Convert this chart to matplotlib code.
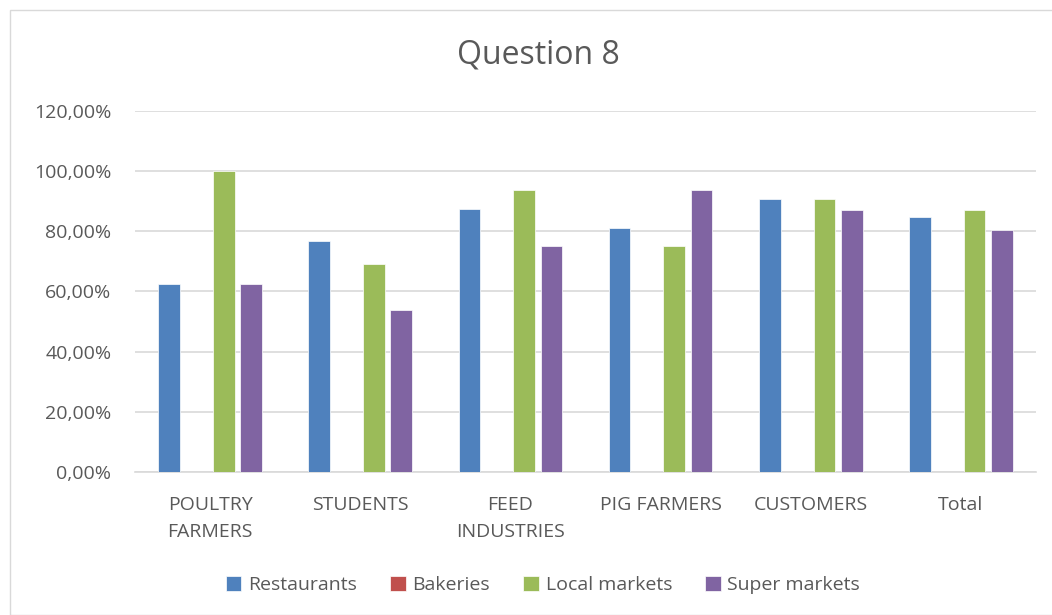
import matplotlib
matplotlib.use("Agg")
import matplotlib.pyplot as plt
from matplotlib.patches import Rectangle
from matplotlib.ticker import FuncFormatter
import numpy as np

categories = ["POULTRY\nFARMERS", "STUDENTS", "FEED\nINDUSTRIES", "PIG FARMERS", "CUSTOMERS", "Total"]
series_names = ["Restaurants", "Bakeries", "Local markets", "Super markets"]
restaurants = [62.5, 76.92, 87.5, 81.25, 90.91, 84.9]
bakeries = [0, 0, 0, 0, 0, 0]
local_markets = [100.0, 69.23, 93.75, 75.0, 90.91, 87.0]
super_markets = [62.5, 53.85, 75.0, 93.75, 87.0, 80.3]
colors = ["#4F81BD", "#C0504D", "#9BBB59", "#8064A2"]

plt.rcParams['font.family'] = ['Open Sans', 'DejaVu Sans']

fig = plt.figure(figsize=(10.52, 6.15), dpi=100)
ax = fig.add_axes([135/1052, 1-472/615, 901/1052, 361/615])

x = np.arange(len(categories))
slot = 0.182
width = 0.145
data = [restaurants, bakeries, local_markets, super_markets]
for i, (name, vals, c) in enumerate(zip(series_names, data, colors)):
    ax.bar(x + (i - 1.5) * slot, np.array(vals) / 100.0, width, color=c, label=name,
           edgecolor='white', linewidth=0.5, zorder=3)

ax.set_xlim(-0.5, len(categories) - 0.5)
ax.set_ylim(0, 1.2)
ax.set_yticks(np.arange(0, 1.21, 0.2))
ax.yaxis.set_major_formatter(FuncFormatter(lambda v, p: f"{v*100:.2f}".replace('.', ',') + "%"))
ax.set_xticks(x)
ax.set_xticklabels(categories, fontsize=14, color="#595959", linespacing=1.7)
ax.tick_params(axis='y', labelsize=14, colors="#595959", length=0, pad=17)
ax.tick_params(axis='x', length=0, pad=17)
ax.grid(axis='y', color="#D9D9D9", linewidth=1.2, zorder=0)
for s in ['top', 'right', 'left']:
    ax.spines[s].set_visible(False)
ax.spines['bottom'].set_color("#D9D9D9")
ax.spines['bottom'].set_linewidth(1.2)

fig.text(538/1052, 1-55/615, "Question 8", ha='center', va='center', fontsize=23, color="#595959")

leg = fig.legend(loc='center', bbox_to_anchor=(543/1052, 1-585/615), ncol=4, frameon=False,
                 fontsize=14, handlelength=0.8, handleheight=0.8, columnspacing=1.7,
                 handletextpad=0.35)
for t in leg.get_texts():
    t.set_color("#595959")

fig.patches.append(Rectangle((10/1052, 0), 1.0, 1 - 10/615, transform=fig.transFigure,
                             fill=False, edgecolor="#D9D9D9", linewidth=1.0))

fig.savefig("out.png", dpi=100)
